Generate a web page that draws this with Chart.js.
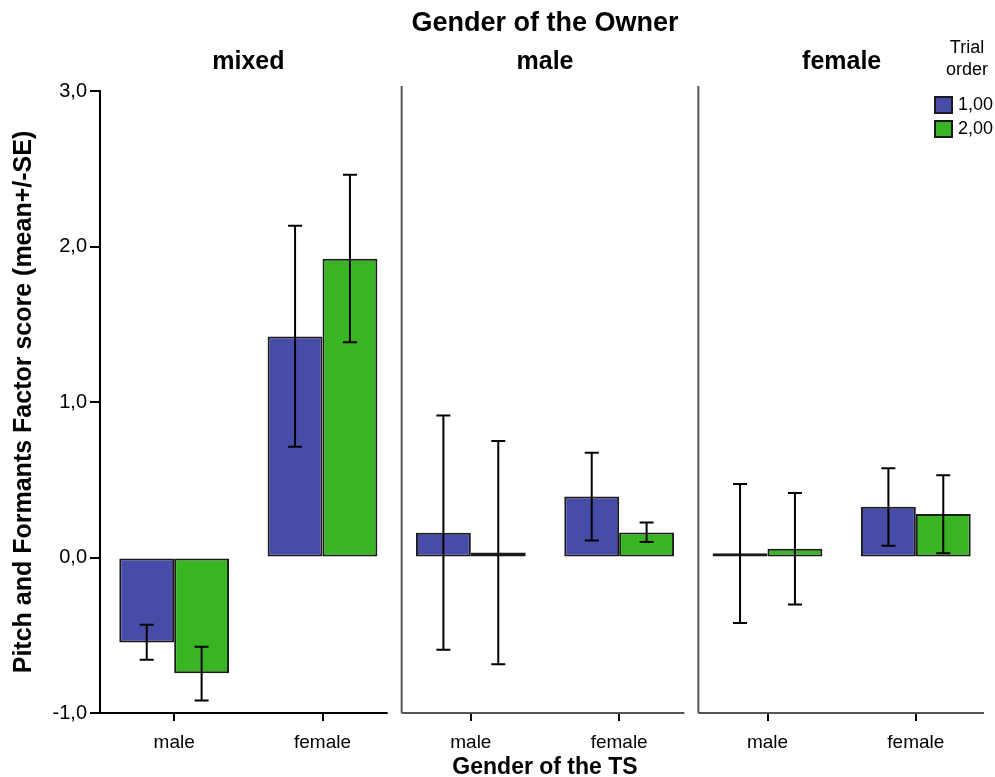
<!DOCTYPE html>
<html>
<head>
<meta charset="utf-8">
<script src="https://cdn.jsdelivr.net/npm/chart.js@4/dist/chart.umd.min.js"></script>
<style>
  html, body { margin: 0; padding: 0; background: #fff; }
  #wrap { width: 995px; height: 777px; }
</style>
</head>
<body>
<div id="wrap"><canvas id="c" width="995" height="777"></canvas></div>
<script>
// Facets: gender of the owner; categories within each facet: gender of the TS
const ownerPanels = ['mixed', 'male', 'female'];
const tsCategories = ['male', 'female', 'male', 'female', 'male', 'female'];
const seriesNames = ['1,00', '2,00'];
const legendTitle = ['Trial', 'order'];

// Trial order 1,00: mean and mean -/+ SE
const trial1Mean = [-0.546, 1.421, 0.159, 0.392, 0.028, 0.326];
const trial1Low  = [-0.657, 0.713, -0.594, 0.109, -0.422, 0.075];
const trial1High = [-0.432, 2.134, 0.913, 0.673, 0.472, 0.574];

// Trial order 2,00: mean and mean -/+ SE
const trial2Mean = [-0.744, 1.922, 0.032, 0.161, 0.056, 0.279];
const trial2Low  = [-0.919, 1.384, -0.686, 0.099, -0.302, 0.028];
const trial2High = [-0.574, 2.462, 0.750, 0.225, 0.414, 0.529];

const yTicks = [-1, 0, 1, 2, 3];
const yTickLabels = ['-1,0', '0,0', '1,0', '2,0', '3,0'];

const FONT = '"Liberation Sans", Arial, Helvetica, sans-serif';
const BLUE = '#484ca9';
const GREEN = '#39b524';

const facetPlugin = {
  id: 'facets',
  afterDatasetsDraw(chart) {
    const ctx = chart.ctx;
    const y = chart.scales.y;
    ctx.save();
    ctx.strokeStyle = '#000';
    ctx.lineWidth = 2;
    chart.data.datasets.forEach((ds, di) => {
      const meta = chart.getDatasetMeta(di);
      meta.data.forEach((bar, i) => {
        const yl = y.getPixelForValue(ds.errLow[i]);
        const yh = y.getPixelForValue(ds.errHigh[i]);
        const cap = 7;
        ctx.beginPath();
        ctx.moveTo(bar.x, yl); ctx.lineTo(bar.x, yh);
        ctx.moveTo(bar.x - cap, yl); ctx.lineTo(bar.x + cap, yl);
        ctx.moveTo(bar.x - cap, yh); ctx.lineTo(bar.x + cap, yh);
        ctx.stroke();
      });
    });
    ctx.restore();
  },
  afterDraw(chart) {
    const ctx = chart.ctx;
    const x = chart.scales.x;
    const area = chart.chartArea;
    const px = i => x.getPixelForValue(i);

    // panel borders: separators and bottom axis segments
    const seps = [];
    for (let p = 1; p < ownerPanels.length; p++) {
      seps.push((px(2 * p - 1) + px(2 * p)) / 2 + 5);
    }
    ctx.save();
    ctx.lineWidth = 2;
    ctx.strokeStyle = '#555';
    seps.forEach(sx => {
      ctx.beginPath();
      ctx.moveTo(sx, area.top - 5);
      ctx.lineTo(sx, area.bottom);
      ctx.stroke();
    });
    const starts = [area.left].concat(seps);
    const ends = seps.map(s => s - 14).concat([area.right - 6]);
    starts.forEach((sx, p) => {
      ctx.strokeStyle = p === 0 ? '#000' : '#555';
      ctx.beginPath();
      ctx.moveTo(sx, area.bottom);
      ctx.lineTo(ends[p], area.bottom);
      ctx.stroke();
    });

    // titles
    ctx.fillStyle = '#000';
    ctx.textAlign = 'center';
    ctx.textBaseline = 'middle';
    ctx.font = 'bold 27px ' + FONT;
    ctx.fillText('Gender of the Owner', (area.left + area.right) / 2, 24);
    ctx.font = 'bold 25px ' + FONT;
    ownerPanels.forEach((name, p) => {
      ctx.fillText(name, (px(2 * p) + px(2 * p + 1)) / 2, 62);
    });

    // legend
    ctx.font = '18px ' + FONT;
    ctx.fillText(legendTitle[0], 967, 48);
    ctx.fillText(legendTitle[1], 967, 70);
    ctx.textAlign = 'left';
    chart.data.datasets.forEach((ds, di) => {
      const by = 97 + di * 24;
      ctx.fillStyle = ds.backgroundColor;
      ctx.fillRect(935, by, 17, 16);
      ctx.strokeStyle = '#1a1a1a';
      ctx.lineWidth = 2;
      ctx.strokeRect(935, by, 17, 16);
      ctx.fillStyle = '#000';
      ctx.fillText(ds.label, 958, by + 8.5);
    });
    ctx.restore();
  }
};

new Chart(document.getElementById('c'), {
  type: 'bar',
  data: {
    labels: tsCategories,
    datasets: [
      { label: seriesNames[0], data: trial1Mean, errLow: trial1Low, errHigh: trial1High,
        backgroundColor: BLUE, borderColor: '#1a1a1a', borderWidth: 2, borderSkipped: false },
      { label: seriesNames[1], data: trial2Mean, errLow: trial2Low, errHigh: trial2High,
        backgroundColor: GREEN, borderColor: '#1a1a1a', borderWidth: 2, borderSkipped: false }
    ]
  },
  options: {
    responsive: false,
    animation: false,
    devicePixelRatio: 1,
    categoryPercentage: 0.74,
    barPercentage: 1.0,
    layout: { padding: { top: 91, left: 0, right: 5, bottom: 0 } },
    plugins: { legend: { display: false }, tooltip: { enabled: false }, title: { display: false } },
    scales: {
      x: {
        offset: true,
        afterFit(s) { s.height = 64; },
        grid: { offset: false, drawOnChartArea: false, drawTicks: true, tickLength: 8, color: '#000', lineWidth: 2 },
        border: { display: false },
        ticks: { color: '#000', font: { family: FONT, size: 19 }, padding: 10, maxRotation: 0 },
        title: { display: true, text: 'Gender of the TS', color: '#000',
                 font: { family: FONT, size: 23, weight: 'bold', lineHeight: 0.8 }, padding: { top: 0, bottom: 0 } }
      },
      y: {
        min: -1, max: 3,
        afterFit(s) { s.width = 100; },
        afterBuildTicks(s) { s.ticks = yTicks.map(v => ({ value: v })); },
        grid: { drawOnChartArea: false, drawTicks: true, tickLength: 10, color: '#000', lineWidth: 2 },
        border: { display: true, color: '#000', width: 2 },
        ticks: { color: '#000', font: { family: FONT, size: 20 }, padding: 3,
                 callback: v => yTickLabels[yTicks.indexOf(v)] },
        title: { display: true, text: 'Pitch and Formants Factor score (mean+/-SE)', color: '#000',
                 font: { family: FONT, size: 25, weight: 'bold' }, padding: { top: 9, bottom: 0 } }
      }
    }
  },
  plugins: [facetPlugin]
});
</script>
</body>
</html>
